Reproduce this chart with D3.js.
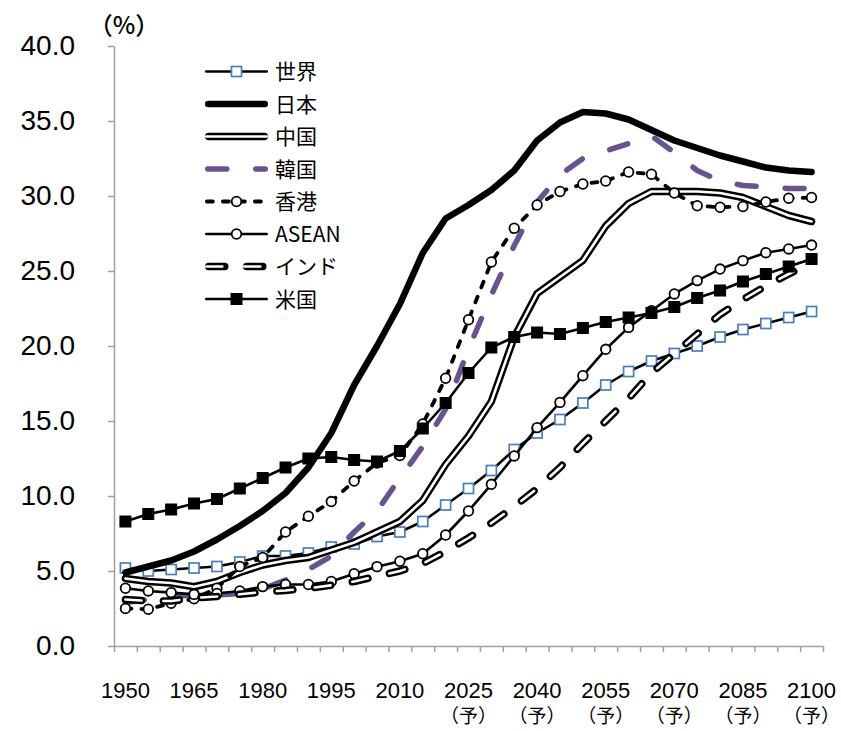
<!DOCTYPE html>
<html>
<head>
<meta charset="utf-8">
<script src="https://cdn.jsdelivr.net/npm/d3@7/dist/d3.min.js"></script>
<style>
  html, body { margin: 0; padding: 0; background: #fff; }
  svg { display: block; }
</style>
</head>
<body>
<svg id="chart" width="841" height="731"></svg>
<script>
// Share of population aged 65+ (%), 1950–2100 (projections from 2025)
const years = [1950, 1955, 1960, 1965, 1970, 1975, 1980, 1985, 1990, 1995,
               2000, 2005, 2010, 2015, 2020, 2025, 2030, 2035, 2040, 2045,
               2050, 2055, 2060, 2065, 2070, 2075, 2080, 2085, 2090, 2095, 2100];

const world = [5.2, 5.0, 5.1, 5.2, 5.3, 5.6, 6.0, 6.0, 6.2, 6.6, 6.8, 7.3, 7.6, 8.3, 9.4, 10.5,
               11.7, 13.1, 14.2, 15.1, 16.2, 17.4, 18.3, 19.0, 19.5, 20.0, 20.6, 21.1, 21.5, 21.9, 22.3];
const japan = [4.9, 5.3, 5.7, 6.3, 7.1, 8.0, 9.0, 10.2, 11.9, 14.2, 17.4, 20.0, 22.8, 26.2, 28.5, 29.4,
               30.4, 31.7, 33.7, 34.9, 35.6, 35.5, 35.1, 34.4, 33.7, 33.2, 32.7, 32.3, 31.9, 31.7, 31.6];
const china = [4.5, 4.3, 4.2, 3.95, 4.3, 4.9, 5.4, 5.7, 5.9, 6.4, 6.9, 7.6, 8.3, 9.7, 12.1, 14.0,
               16.3, 20.6, 23.5, 24.6, 25.7, 28.0, 29.5, 30.3, 30.3, 30.3, 30.2, 29.9, 29.3, 28.7, 28.3];
const korea = [2.9, 3.1, 3.3, 3.4, 3.4, 3.5, 3.8, 4.4, 5.1, 6.0, 7.6, 9.0, 11.2, 13.3, 15.8, 19.8,
               23.4, 26.7, 29.6, 31.4, 32.5, 33.0, 33.5, 34.0, 32.9, 31.7, 31.0, 30.7, 30.6, 30.5, 30.5];
const hongkong = [2.5, 2.45, 2.85, 3.15, 3.85, 5.3, 5.9, 7.6, 8.65, 9.63, 11.0, 12.2, 12.7, 14.8, 17.85, 21.75,
                  25.6, 27.85, 29.4, 30.3, 30.8, 31.0, 31.6, 31.45, 30.2, 29.35, 29.25, 29.3, 29.6, 29.85, 29.9];
const asean = [3.85, 3.67, 3.56, 3.44, 3.5, 3.67, 3.96, 4.1, 4.1, 4.3, 4.82, 5.29, 5.65, 6.15, 7.4, 9.0,
               10.78, 12.67, 14.56, 16.24, 18.02, 19.78, 21.24, 22.35, 23.47, 24.36, 25.13, 25.69, 26.22, 26.47, 26.73];
const india = [3.1, 3.0, 3.0, 3.2, 3.3, 3.45, 3.6, 3.7, 3.85, 4.05, 4.3, 4.65, 5.0, 5.5, 6.3, 7.2,
               8.2, 9.3, 10.5, 11.9, 13.5, 15.0, 16.5, 18.2, 19.5, 20.8, 22.1, 23.1, 24.0, 24.8, 25.5];
const usa = [8.3, 8.8, 9.1, 9.5, 9.8, 10.5, 11.2, 11.9, 12.5, 12.6, 12.4, 12.3, 13.0, 14.5, 16.2, 18.2,
             19.9, 20.6, 20.9, 20.8, 21.2, 21.6, 21.9, 22.2, 22.6, 23.2, 23.7, 24.3, 24.8, 25.3, 25.8];

const seriesNames = ["世界", "日本", "中国", "韓国", "香港", "ASEAN", "インド", "米国"];
const yTicks = [0, 5, 10, 15, 20, 25, 30, 35, 40];
const labelYears = [1950, 1965, 1980, 1995, 2010, 2025, 2040, 2055, 2070, 2085, 2100];
const projectionFrom = 2025;
const unitLabel = "（%）";
const projectionMark = "（予）";

const svg = d3.select("#chart");
const plot = { left: 114, right: 823, top: 46, bottom: 646 };

const x = d3.scaleBand().domain(years).range([plot.left, plot.right]).paddingInner(0).paddingOuter(0);
const xc = d => x(d) + x.bandwidth() / 2;
const y = d3.scaleLinear().domain([0, 40]).range([plot.bottom, plot.top]);

const axisColor = "#a0a0a0";
const latin = "'Liberation Sans', Arial, sans-serif";
const cjk = "'Noto Sans CJK JP', 'Noto Sans', sans-serif";

// Y axis
const yAxis = svg.append("g")
  .attr("transform", `translate(${plot.left},0)`)
  .call(d3.axisLeft(y).tickValues(yTicks).tickFormat(d3.format(".1f")).tickSize(6).tickSizeOuter(0).tickPadding(33));
yAxis.select(".domain").attr("stroke", axisColor).attr("stroke-width", 1.5);
yAxis.selectAll(".tick line").attr("stroke", axisColor).attr("stroke-width", 1.5);
yAxis.selectAll(".tick text").attr("fill", "#000").style("font-family", latin).style("font-size", "28px");

// X axis: tick marks between categories
const xEdge = d3.scaleLinear().domain([0, years.length]).range([plot.left, plot.right]);
const xAxis = svg.append("g")
  .attr("transform", `translate(0,${plot.bottom})`)
  .call(d3.axisBottom(xEdge).tickValues(d3.range(0, years.length + 1)).tickFormat("").tickSize(6).tickSizeOuter(0));
xAxis.select(".domain").attr("stroke", axisColor).attr("stroke-width", 1.5);
xAxis.selectAll(".tick line").attr("stroke", axisColor).attr("stroke-width", 1.5);

// X labels
const xl = svg.append("g");
xl.selectAll("text.yr").data(labelYears).join("text")
  .attr("class", "yr")
  .attr("x", d => xc(d)).attr("y", 698)
  .attr("text-anchor", "middle")
  .style("font-family", latin).style("font-size", "22px")
  .text(d => d);
xl.selectAll("text.proj").data(labelYears.filter(d => d >= projectionFrom)).join("text")
  .attr("class", "proj")
  .attr("x", d => xc(d)).attr("y", 723)
  .attr("text-anchor", "middle")
  .style("font-family", cjk).style("font-size", "19px")
  .text(projectionMark);

// Unit label
svg.append("text")
  .attr("x", 124).attr("y", 34)
  .attr("text-anchor", "middle")
  .style("font-family", cjk).style("font-size", "24px").style("font-weight", "500")
  .text(unitLabel);

// Series styles (drawing order = legend order)
const styles = [
  { name: seriesNames[0], values: world, strokes: [{ c: "#000", w: 2.6 }], marker: "sqOpen" },
  { name: seriesNames[1], values: japan, strokes: [{ c: "#000", w: 6.5 }] },
  { name: seriesNames[2], values: china, strokes: [{ c: "#000", w: 7.5 }, { c: "#fff", w: 2.6 }] },
  { name: seriesNames[3], values: korea, strokes: [{ c: "#69538f", w: 5.5, dash: "19,29" }] },
  { name: seriesNames[4], values: hongkong, strokes: [{ c: "#000", w: 3.8, dash: "6,10" }], marker: "circle" },
  { name: seriesNames[5], values: asean, strokes: [{ c: "#000", w: 2.6 }], marker: "circle" },
  { name: seriesNames[6], values: india, strokes: [{ c: "#000", w: 7.5, dash: "16,22" }, { c: "#fff", w: 2.6, dash: "16,22" }] },
  { name: seriesNames[7], values: usa, strokes: [{ c: "#000", w: 2.6 }], marker: "sqFill" }
];

const line = d3.line().x((d, i) => xc(years[i])).y(d => y(d));

function drawMarker(g, type, cx, cy) {
  if (type === "sqOpen") {
    g.append("rect").attr("x", cx - 5).attr("y", cy - 5).attr("width", 10).attr("height", 10)
      .attr("fill", "#fff").attr("stroke", "#4a7ebb").attr("stroke-width", 1.7);
  } else if (type === "sqFill") {
    g.append("rect").attr("x", cx - 5.5).attr("y", cy - 5.5).attr("width", 11).attr("height", 11)
      .attr("fill", "#000").attr("stroke", "#000").attr("stroke-width", 1);
  } else if (type === "circle") {
    g.append("circle").attr("cx", cx).attr("cy", cy).attr("r", 4.8)
      .attr("fill", "#fff").attr("stroke", "#000").attr("stroke-width", 1.8);
  }
}

const series = svg.append("g");
styles.forEach(s => {
  const g = series.append("g");
  s.strokes.forEach(st => {
    g.append("path").datum(s.values)
      .attr("d", line)
      .attr("fill", "none")
      .attr("stroke", st.c)
      .attr("stroke-width", st.w)
      .attr("stroke-linejoin", "round")
      .attr("stroke-linecap", "round")
      .attr("stroke-dasharray", st.dash || null);
  });
  if (s.marker) {
    s.values.forEach((v, i) => drawMarker(g, s.marker, xc(years[i]), y(v)));
  }
});

// Legend
const legend = svg.append("g");
const lgX0 = 205, lgX1 = 268, lgY0 = 71.5, lgStep = 32.5;
styles.forEach((s, i) => {
  const ly = lgY0 + i * lgStep;
  const g = legend.append("g");
  s.strokes.forEach(st => {
    g.append("line")
      .attr("x1", lgX0 + st.w / 2).attr("x2", lgX1 - st.w / 2)
      .attr("y1", ly).attr("y2", ly)
      .attr("stroke", st.c).attr("stroke-width", st.w)
      .attr("stroke-linecap", "round")
      .attr("stroke-dasharray", st.dash || null);
  });
  if (s.marker) drawMarker(g, s.marker, (lgX0 + lgX1) / 2, ly);
  g.append("text")
    .attr("x", 275).attr("y", ly)
    .attr("dy", "0.36em")
    .style("font-family", cjk).style("font-size", "21px")
    .text(s.name);
});
</script>
</body>
</html>
